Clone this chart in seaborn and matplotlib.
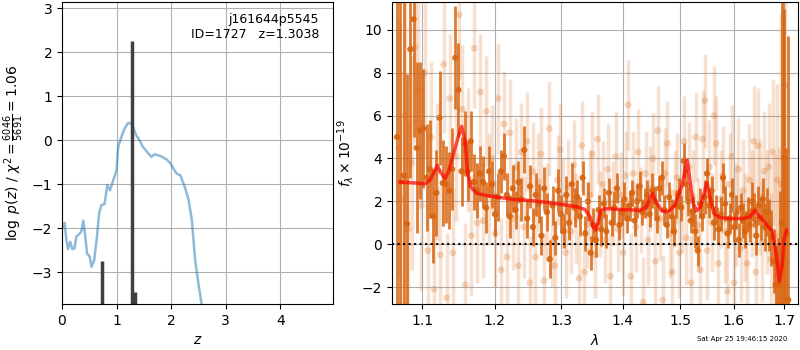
import numpy as np
import matplotlib
matplotlib.use('Agg')
import matplotlib.pyplot as plt
from matplotlib.ticker import ScalarFormatter, NullFormatter, NullLocator
import seaborn as sns

# ---- left panel: redshift PDF ----
pz_z = [0.02, 0.05, 0.08, 0.11, 0.15, 0.19, 0.23, 0.26, 0.33, 0.36, 0.39, 0.42,
        0.46, 0.51, 0.54, 0.59, 0.64, 0.68, 0.72, 0.78, 0.83, 0.88, 0.94, 1.00,
        1.03, 1.09, 1.15, 1.21, 1.27, 1.31, 1.36, 1.42, 1.48, 1.58, 1.64, 1.70,
        1.80, 1.92, 1.99, 2.04, 2.10, 2.17, 2.26, 2.32, 2.38, 2.44, 2.50, 2.56]
pz_logp = [-1.97, -1.88, -2.27, -2.48, -2.31, -2.48, -2.46, -2.20, -2.12, -2.05, -1.83, -2.12,
           -2.58, -2.65, -2.88, -2.73, -2.20, -1.67, -1.48, -1.45, -1.02, -1.14, -0.91, -0.68,
           -0.15, 0.08, 0.27, 0.39, 0.38, 0.27, 0.11, 0.00, -0.15, -0.30, -0.38, -0.32,
           -0.36, -0.44, -0.53, -0.64, -0.76, -0.80, -1.10, -1.36, -1.82, -2.73, -3.26, -3.75]
spike_z = [0.724, 1.286, 1.340]
spike_top = [-2.75, 2.26, -3.45]

# ---- right panel: spectrum ----
dark_flux = [5.0, 2.9, 3.2, 0.95, 9.1, 10.5, 4.5, 5.3, 5.4, 3.1,
             3.5, 1.3, 2.4, 5.9, 2.85, 2.8, 2.5, 3.5, 8.7, 7.2,
             3.4, 4.7, 3.4, 4.8, 2.9, 2.5, 3.3, 2.9, 1.7, 3.4,
             2.8, 1.4, 2.2, 3.4, 4.1, 2.3, 1.3, 2.6, 1.6, 2.9,
             2.1, 4.4, 1.2, 2.7, 0.8, 2.3, 1.9, 0.4, 2.6, 1.5,
             -0.7, 1.8, 0.3, 2.5, 1.4, 0.6, 2.3, 1.0, 2.8, 1.7,
             2.2, 1.3, 3.1, 0.5, 2.0, -0.4, 0.9, 0.2, 1.6, 0.7,
             1.9, 0.6, 2.4, 1.0, 1.7, 2.6, 0.9, 1.5, 2.1, 1.2,
             1.8, 2.4, 1.1, 2.0, 2.7, 1.5, 1.9, 2.3, 1.4, 2.5,
             2.0, 1.2, 2.6, 3.1, 1.6, 0.9, 2.2, 1.3, 0.6, 1.8,
             2.4, 1.7, 3.9, 2.8, 2.0, 1.1, 1.5, 0.6, -0.3, 1.9,
             1.3, 2.2, 3.3, 1.8, 2.5, 1.0, 1.6, 0.7, 1.4, 3.1,
             1.9, 0.5, 1.2, 2.3, 0.8, 1.5, 0.2, 1.7, 1.1, 0.6,
             1.4, 0.9, 2.0, 1.6, 0.4, 1.8, 1.2, 2.1, 0.8, 1.5,
             0.9, 0.3, -0.8, -1.9, -1.9, -1.0, 1.0, 4.0, 0.5, -2.6]
dark_err = [12, 10, 9, 7, 6, 5.5, 4, 3.2, 2.8, 2.5,
            2.3, 2.2, 2.0, 2.2, 2.0, 1.8, 1.8, 1.9, 2.4, 2.2,
            1.6, 1.5, 1.4, 1.4, 1.3, 1.3, 1.3, 1.2, 1.2, 1.2,
            1.1, 1.0, 1.1, 1.0, 1.1, 1.0, 1.0, 1.1, 0.9, 1.0,
            1.0, 1.1, 0.9, 1.0, 0.9, 1.0, 0.9, 0.9, 1.0, 0.9,
            0.9, 0.9, 0.8, 1.0, 0.9, 0.8, 0.9, 0.8, 1.0, 0.9,
            0.8, 0.9, 0.8, 0.8, 0.9, 0.8, 0.8, 0.8, 0.7, 0.8,
            0.7, 0.8, 0.7, 0.6, 0.8, 0.7, 0.7, 0.6, 0.8, 0.7,
            0.7, 0.6, 0.7, 0.8, 0.7, 0.6, 0.7, 0.7, 0.6, 0.8,
            0.7, 0.7, 0.6, 0.8, 0.7, 0.6, 0.7, 0.8, 0.7, 0.6,
            0.7, 0.6, 0.8, 0.7, 0.7, 0.6, 0.7, 0.8, 0.7, 0.7,
            0.7, 0.8, 0.7, 0.6, 0.7, 0.8, 0.7, 0.7, 0.8, 0.7,
            0.8, 0.7, 0.7, 0.8, 0.7, 0.8, 0.8, 0.7, 0.8, 0.8,
            0.8, 0.8, 0.9, 0.8, 0.9, 0.9, 1.0, 1.0, 1.1, 1.1,
            1.2, 1.3, 1.5, 1.8, 2.2, 3.5, 14, 7, 4, 12.3]

light_flux = [4.5, 2.1, 6.0, 0.7, 3.8, 9.2, 7.2, 1.8, 8.0, -0.3,
              5.0, -2.1, 3.4, -0.5, 8.4, -2.5, 6.8, -0.4, 4.1, 10.7,
              6.3, -1.9, 4.4, 0.4, 9.15, 1.0, 7.1, 1.1, 6.2, 2.6,
              4.0, 0.5, 6.8, -1.2, 5.6, -0.6, 5.2, 1.2, 3.6, -1.0,
              4.3, 0.8, 4.8, -1.8, 3.4, -0.6, 2.9, 4.2, -1.7, 1.5,
              5.4, 0.1, -1.0, 3.0, 4.4, 1.9, -0.4, 2.7, 0.6, 3.7,
              1.2, -1.6, 4.6, -1.3, 0.9, 2.3, 4.2, -0.5, 4.9, 1.4,
              2.8, 0.2, 3.5, -1.5, 1.9, 4.1, 0.7, 2.3, -0.4, 3.2,
              6.5, -1.5, 3.3, 0.8, 4.3, 1.6, -2.7, 3.3, 0.2, 2.6,
              4.0, -0.8, 5.3, 1.2, -2.6, 3.3, 4.7, 0.5, -1.3, 2.4,
              3.1, -0.4, 1.8, 4.8, 0.3, 3.6, -1.8, 2.2, 5.0, 0.9,
              -1.2, 4.9, 6.7, -0.3, 3.6, 1.0, 6.0, 4.7, -0.9, 2.1,
              3.2, 0.6, -2.2, 2.8, 4.1, -1.8, 1.4, 3.5, -0.2, 2.5,
              0.8, -0.9, 3.0, 1.9, 4.8, -1.3, 4.6, 2.2, 0.1, 3.4,
              1.5, 3.6, -0.7, 4.3, 0.4, 3.0, -0.5, 2.8, 1.0, 7.4]
light_err = [6, 6, 5.5, 5, 5, 4.5, 4.5, 4, 4, 3.5,
             3.5, 3.5, 3.2, 3.2, 3.2, 3, 3, 3, 3, 3,
             3, 2.9, 2.9, 2.8, 2.8, 2.8, 2.7, 2.7, 2.6, 2.6,
             2.5, 2.5, 2.6, 2.4, 2.5, 2.4, 2.5, 2.4, 2.3, 2.4,
             2.3, 2.4, 2.3, 2.2, 2.3, 2.2, 2.3, 2.2, 2.2, 2.3,
             2.2, 2.1, 2.2, 2.1, 2.2, 2.1, 2.1, 2.2, 2.0, 2.1,
             2.1, 2.0, 2.1, 2.0, 2.0, 2.1, 2.0, 2.0, 2.1, 2.0,
             2.0, 2.0, 2.1, 2.0, 2.0, 2.1, 2.0, 2.0, 2.0, 2.1,
             2.1, 2.0, 2.0, 2.1, 2.0, 2.0, 2.1, 2.0, 2.1, 2.0,
             2.1, 2.0, 2.1, 2.0, 2.1, 2.1, 2.0, 2.1, 2.1, 2.0,
             2.1, 2.1, 2.2, 2.1, 2.2, 2.1, 2.2, 2.2, 2.1, 2.2,
             2.2, 2.3, 2.2, 2.3, 2.2, 2.3, 2.3, 2.2, 2.3, 2.3,
             2.3, 2.4, 2.3, 2.4, 2.4, 2.3, 2.4, 2.4, 2.5, 2.4,
             2.5, 2.5, 2.6, 2.5, 2.6, 2.6, 2.7, 2.7, 2.8, 2.8,
             2.9, 3.0, 3.1, 3.4, 3.8, 4.5, 5.0, 8.0, 15.0, 12.0]

model_wave = [1.0718, 1.1036, 1.1102, 1.1200, 1.1246, 1.1305, 1.1359, 1.1428, 1.1487,
              1.1534, 1.1580, 1.1618, 1.1660, 1.1744, 1.1934, 1.2273, 1.2624, 1.2982,
              1.3246, 1.3379, 1.3460, 1.3514, 1.3553, 1.3585, 1.3634, 1.3705, 1.3955,
              1.4295, 1.4410, 1.4480, 1.4516, 1.4572, 1.4673, 1.4790, 1.4909, 1.5030,
              1.5090, 1.5132, 1.5180, 1.5241, 1.5303, 1.5377, 1.5439, 1.5489, 1.5551,
              1.5626, 1.5739, 1.5930, 1.6187, 1.6318, 1.6417, 1.6482, 1.6582, 1.6684,
              1.6753, 1.6819, 1.6865, 1.6906, 1.6960, 1.7001, 1.7052]
model_flux = [2.90, 2.82, 2.98, 3.68, 3.35, 3.05, 3.45, 4.30, 5.00,
              5.50, 4.84, 3.30, 2.68, 2.37, 2.24, 2.09, 2.01, 1.87,
              1.75, 1.62, 1.27, 0.80, 0.65, 0.96, 1.55, 1.66, 1.62,
              1.58, 1.74, 2.20, 2.37, 1.98, 1.56, 1.51, 1.82, 2.68,
              3.38, 3.92, 2.99, 1.90, 1.56, 1.74, 2.37, 2.87, 2.22,
              1.43, 1.24, 1.20, 1.20, 1.27, 1.58, 1.35, 1.11, 0.80,
              0.65, -0.12, -0.90, -1.75, -1.05, 0.19, 0.65]

dark_wave = np.linspace(1.067, 1.709, len(dark_flux))
light_wave = np.linspace(1.069, 1.703, len(light_flux))

orange = '#d8640f'

fig = plt.figure(figsize=(8, 3.5), dpi=100)
ax1 = fig.add_axes([0.0775, 0.131, 0.339, 0.863])
ax2 = fig.add_axes([0.49, 0.131, 0.5075, 0.863])

# left: p(z)
sns.lineplot(x=pz_z, y=pz_logp, ax=ax1, color='#1f77b4', alpha=0.5, lw=1.8)
ax1.vlines(spike_z, -3.73, spike_top, color='#404040', lw=2.5)
ax1.set_xlim(0, 4.97)
ax1.set_ylim(-3.73, 3.14)
ax1.set_xticks([0, 1, 2, 3, 4])
ax1.set_yticks([-3, -2, -1, 0, 1, 2, 3])
ax1.grid(True)
ax1.set_xlabel(r'$z$')
ax1.set_ylabel(r'$\log\ p(z)$ / $\chi^2=\frac{6046}{5691}=1.06$')
ax1.text(0.948, 0.965, 'j161644p5545\nID=1727   z=1.3038', transform=ax1.transAxes,
         ha='right', va='top', fontsize=9)

# right: spectrum
ax2.errorbar(light_wave, light_flux, yerr=light_err, fmt='none', ecolor=orange,
             alpha=0.2, elinewidth=2.5)
sns.scatterplot(x=light_wave, y=light_flux, ax=ax2, color=orange, alpha=0.25,
                s=24, edgecolor='none')
ax2.errorbar(dark_wave, dark_flux, yerr=dark_err, fmt='none', ecolor=orange,
             alpha=0.85, elinewidth=2)
sns.scatterplot(x=dark_wave, y=dark_flux, ax=ax2, color=orange, alpha=0.9,
                s=20, edgecolor='none')
sns.lineplot(x=model_wave, y=model_flux, ax=ax2, color='red', alpha=0.7, lw=2.5)
ax2.axhline(0, color='k', ls=':', lw=1.5)
ax2.set_xscale('log')
ax2.set_xlim(1.0606, 1.729)
ax2.set_ylim(-2.8, 11.3)
ax2.set_xticks([1.1, 1.2, 1.3, 1.4, 1.5, 1.6, 1.7])
ax2.xaxis.set_major_formatter(ScalarFormatter())
ax2.xaxis.set_minor_locator(NullLocator())
ax2.xaxis.set_minor_formatter(NullFormatter())
ax2.set_yticks([-2, 0, 2, 4, 6, 8, 10])
ax2.grid(True)
ax2.set_xlabel(r'$\lambda$')
ax2.set_ylabel(r'$f_\lambda\times10^{-19}$')

fig.text(0.984, 0.031, 'Sat Apr 25 19:46:15 2020', ha='right', va='center', fontsize=5)

fig.savefig('out.png', dpi=100)
